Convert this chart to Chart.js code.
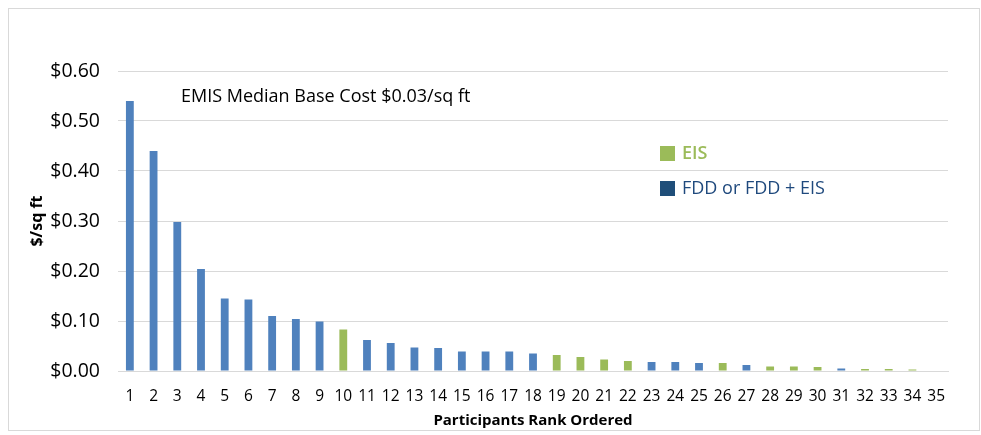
<!DOCTYPE html>
<html>
<head>
<meta charset="utf-8">
<script src="https://cdn.jsdelivr.net/npm/chart.js@4"></script>
<style>
  body { margin: 0; background: #fff; }
  #wrap { position: relative; width: 981px; height: 435px; }
  #frame { position: absolute; left: 8px; top: 8px; width: 970px; height: 421px; border: 1px solid #d9d9d9; }
  #chart { position: absolute; left: 0; top: 0; }
</style>
</head>
<body>
<div id="wrap">
  <div id="frame"></div>
  <canvas id="chart" width="981" height="435"></canvas>
</div>
<script>
// participants rank 1..35
const ranks = Array.from({ length: 35 }, (_, i) => String(i + 1));

// cost per sq ft
const costs = [
  0.54, 0.44, 0.298, 0.204, 0.145, 0.143, 0.110, 0.104, 0.099, 0.083,
  0.062, 0.056, 0.047, 0.046, 0.039, 0.039, 0.039, 0.035, 0.032, 0.028,
  0.023, 0.020, 0.018, 0.018, 0.016, 0.016, 0.012, 0.009, 0.009, 0.008,
  0.005, 0.004, 0.004, 0.003, 0
];

// which program each participant belongs to
const groups = [
  "FDD", "FDD", "FDD", "FDD", "FDD", "FDD", "FDD", "FDD", "FDD", "EIS",
  "FDD", "FDD", "FDD", "FDD", "FDD", "FDD", "FDD", "FDD", "EIS", "EIS",
  "EIS", "EIS", "FDD", "FDD", "FDD", "EIS", "FDD", "EIS", "EIS", "EIS",
  "FDD", "EIS", "EIS", "EIS", "EIS"
];

const yTicks = [0, 0.1, 0.2, 0.3, 0.4, 0.5, 0.6];

const legendItems = [
  { label: "EIS", box: "#9BBB59", text: "#9BBB59" },
  { label: "FDD or FDD + EIS", box: "#1F4E79", text: "#1F497D" },
];

const note = "EMIS Median Base Cost $0.03/sq ft";

const FONT = "'Open Sans', sans-serif";

// draws the note and the little legend inside the plot
const extras = {
  id: "extras",
  afterDraw(chart) {
    const ctx = chart.ctx;
    const area = chart.chartArea;
    ctx.save();
    ctx.textBaseline = "middle";
    ctx.textAlign = "left";
    ctx.fillStyle = "#000";
    ctx.font = "18px " + FONT;
    ctx.fillText(note, area.left + 63, 97);

    legendItems.forEach((item, i) => {
      const y = 153 + i * 35;
      ctx.fillStyle = item.box;
      ctx.fillRect(660, y - 7, 15, 15);
      ctx.fillStyle = item.text;
      ctx.font = (i === 0 ? "600 " : "") + "18px " + FONT;
      ctx.fillText(item.label, 682, y + 1);
    });
    ctx.restore();
  },
};

const ctx = document.getElementById("chart").getContext("2d");

new Chart(ctx, {
  type: "bar",
  data: {
    labels: ranks,
    datasets: [
      {
        label: "EIS",
        data: costs.map((v, i) => (groups[i] === "EIS" ? v : null)),
        backgroundColor: "#9BBB59",
      },
      {
        label: "FDD or FDD + EIS",
        data: costs.map((v, i) => (groups[i] === "FDD" ? v : null)),
        backgroundColor: "#4F81BD",
      },
    ],
  },
  options: {
    responsive: false,
    animation: false,
    grouped: false,
    barPercentage: 0.33,
    categoryPercentage: 1,
    layout: { padding: { left: 20, right: 33, top: 71, bottom: 0 } },
    plugins: {
      legend: { display: false },
      tooltip: { enabled: false },
    },
    scales: {
      x: {
        grid: { display: false, drawTicks: false },
        border: { color: "#d9d9d9" },
        ticks: { color: "#000", padding: 16, maxRotation: 0, autoSkip: false, font: { family: FONT, size: 15.5 } },
        title: {
          display: true,
          text: "Participants Rank Ordered",
          color: "#000",
          font: { family: FONT, size: 15, weight: "bold" },
          padding: { top: 4, bottom: 5 },
        },
        afterFit: (scale) => { scale.height = 64; },
      },
      y: {
        min: 0,
        max: 0.6,
        afterBuildTicks: (scale) => { scale.ticks = yTicks.map((v) => ({ value: v })); },
        grid: { color: "#d9d9d9", drawTicks: false },
        border: { display: false },
        ticks: {
          color: "#000",
          padding: 18,
          font: { family: FONT, size: 19.5 },
          callback: (v) => "$" + v.toFixed(2),
        },
        title: {
          display: true,
          text: "$/sq ft",
          color: "#000",
          font: { family: FONT, size: 16, weight: "bold" },
          padding: { top: 8, bottom: 0 },
        },
        afterFit: (scale) => { scale.width = 98; },
      },
    },
  },
  plugins: [extras],
});
</script>
</body>
</html>
